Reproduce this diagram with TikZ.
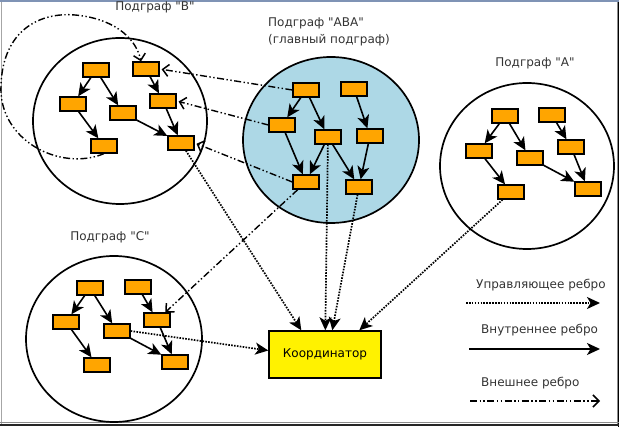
\documentclass[tikz,border=0pt]{standalone}
\usepackage{fontspec}
\setmainfont{DejaVu Sans}[Ligatures=TeXOff]
\usetikzlibrary{arrows.meta}
\definecolor{boxorange}{HTML}{FFA500}
\definecolor{mainblue}{HTML}{ADD8E6}
\definecolor{framebar}{HTML}{7F93B5}
\tikzset{
  vertex/.style={draw, line width=1.3pt, fill=boxorange, minimum width=26pt, minimum height=14pt, inner sep=0pt},
  koordbox/.style={draw, line width=1.4pt, fill=yellow, minimum width=112pt, minimum height=47pt, font=\fontsize{12}{14}\selectfont},
  subgraph/.style={line width=1.7pt},
  title/.style={font=\fontsize{12}{17}\selectfont, text=black!80, inner sep=0pt},
  inner/.style={line width=1.6pt, -{Stealth[length=13pt,width=12pt,inset=3.5pt]}},
  ctrl/.style={line width=1.7pt, dash pattern=on 1.6pt off 1.3pt, -{Stealth[length=13pt,width=12pt,inset=3.5pt]}},
  outer/.style={line width=1.4pt, dash pattern=on 7pt off 2.5pt on 1.4pt off 2.5pt on 1.4pt off 2.5pt, -{Straight Barb[length=6pt,width=12pt,line width=1.5pt]}},
}
\begin{document}
\begin{tikzpicture}[x=1pt, y=-1pt]
  \useasboundingbox (0,0) rectangle (619,427);
  % frame
  \fill[framebar] (0,0) rectangle (619,2);
  \draw[black!35, line width=1pt] (1,2) -- (1,424);
  \draw[black!45, line width=1pt] (617,2) -- (617,424);
  \fill[black] (618,2) rectangle (619,427);
  \draw[black!45, line width=1pt] (0,423) -- (619,423);
  \draw[black!85, line width=1.4pt] (0,425) -- (619,425);

  % subgraph circles
  \draw[subgraph] (120,121) ellipse [x radius=87pt, y radius=83pt];
  \draw[subgraph, fill=mainblue] (331,140) ellipse [x radius=88pt, y radius=83pt];
  \draw[subgraph] (527,166) ellipse [x radius=87pt, y radius=83pt];
  \draw[subgraph] (114,339) ellipse [x radius=88pt, y radius=83pt];

  \node[title] (tb) at (155,7) {Подграф "B"};
  \node[title, align=left, anchor=north west] (tm) at (268,18) {Подграф "ABA"\\(главный подграф)};
  \node[title] (ta) at (535,63) {Подграф "A"};
  \node[title] (tc) at (110,237) {Подграф "C"};

  % subgraph B
  \node[vertex] (b1) at (96,70) {};
  \node[vertex] (b2) at (146,69) {};
  \node[vertex] (b3) at (73,104) {};
  \node[vertex] (b4) at (123,113) {};
  \node[vertex] (b5) at (163,101) {};
  \node[vertex] (b6) at (104,146) {};
  \node[vertex] (b7) at (181,143) {};

  % subgraph A
  \node[vertex] (a1) at (505,116) {};
  \node[vertex] (a2) at (552,115) {};
  \node[vertex] (a3) at (479,151) {};
  \node[vertex] (a4) at (530,158) {};
  \node[vertex] (a5) at (571,147) {};
  \node[vertex] (a6) at (511,192) {};
  \node[vertex] (a7) at (588,189) {};

  % subgraph C
  \node[vertex] (c1) at (90,288) {};
  \node[vertex] (c2) at (138,287) {};
  \node[vertex] (c3) at (66,322) {};
  \node[vertex] (c4) at (117,331) {};
  \node[vertex] (c5) at (157,320) {};
  \node[vertex] (c6) at (97,365) {};
  \node[vertex] (c7) at (175,362) {};

  % subgraph ABA
  \node[vertex] (m1) at (306,90) {};
  \node[vertex] (m2) at (354,89) {};
  \node[vertex] (m3) at (282,125) {};
  \node[vertex] (m4) at (328,137) {};
  \node[vertex] (m5) at (370,136) {};
  \node[vertex] (m6) at (306,182) {};
  \node[vertex] (m7) at (359,187) {};

  \node[koordbox] (koord) at (325,354.5) {Координатор};

  % inner edges
  \foreach \g in {b,a,c} {
    \draw[inner] (\g1) -- (\g3);
    \draw[inner] (\g1) -- (\g4);
    \draw[inner] (\g3) -- (\g6);
    \draw[inner] (\g4) -- (\g7);
    \draw[inner] (\g2) -- (\g5);
    \draw[inner] (\g5) -- (\g7);
  }
  \draw[inner] (m1) -- (m3);
  \draw[inner] (m1) -- (m4);
  \draw[inner] (m3) -- (m6);
  \draw[inner] (m4) -- (m6);
  \draw[inner] (m4) -- (m7);
  \draw[inner] (m2) -- (m5);
  \draw[inner] (m5) -- (m7);

  % control edges
  \draw[ctrl] (b7) -- ([xshift=33pt]koord.north west);
  \draw[ctrl] (m4) -- ([xshift=57pt]koord.north west);
  \draw[ctrl] (m7) -- ([xshift=64pt]koord.north west);
  \draw[ctrl] (a6) -- ([xshift=91pt]koord.north west);
  \draw[ctrl] (c4.east) -- ([yshift=4pt]koord.west);

  % outer edges
  \draw[outer, shorten >=2pt] (m1.west) -- (b2.east);
  \draw[outer, shorten >=2pt] (m3.west) -- (b5.east);
  \draw[outer, shorten >=2pt] (m6.west) -- (b7.east);
  \draw[outer] (m6) -- (c5);
  \draw[outer] (b6.south) .. controls (60,172) and (-2,140) .. (1,85)
    .. controls (3,30) and (40,12) .. (75,15)
    .. controls (110,18) and (135,35) .. ([xshift=-5pt]b2.north);

  % legend
  \coordinate (l1a) at (466,303);
  \coordinate (l1b) at (600,303);
  \coordinate (l2a) at (469,349);
  \coordinate (l2b) at (600,349);
  \coordinate (l3a) at (470,401);
  \coordinate (l3b) at (600,401);
  \node[title, anchor=west] (lt1) at (476,285) {Управляющее ребро};
  \node[title, anchor=west] (lt2) at (481,330) {Внутреннее ребро};
  \node[title, anchor=west] (lt3) at (481,383) {Внешнее ребро};
  \draw[ctrl] (l1a) -- (l1b);
  \draw[inner] (l2a) -- (l2b);
  \draw[outer] (l3a) -- (l3b);
\end{tikzpicture}
\end{document}
